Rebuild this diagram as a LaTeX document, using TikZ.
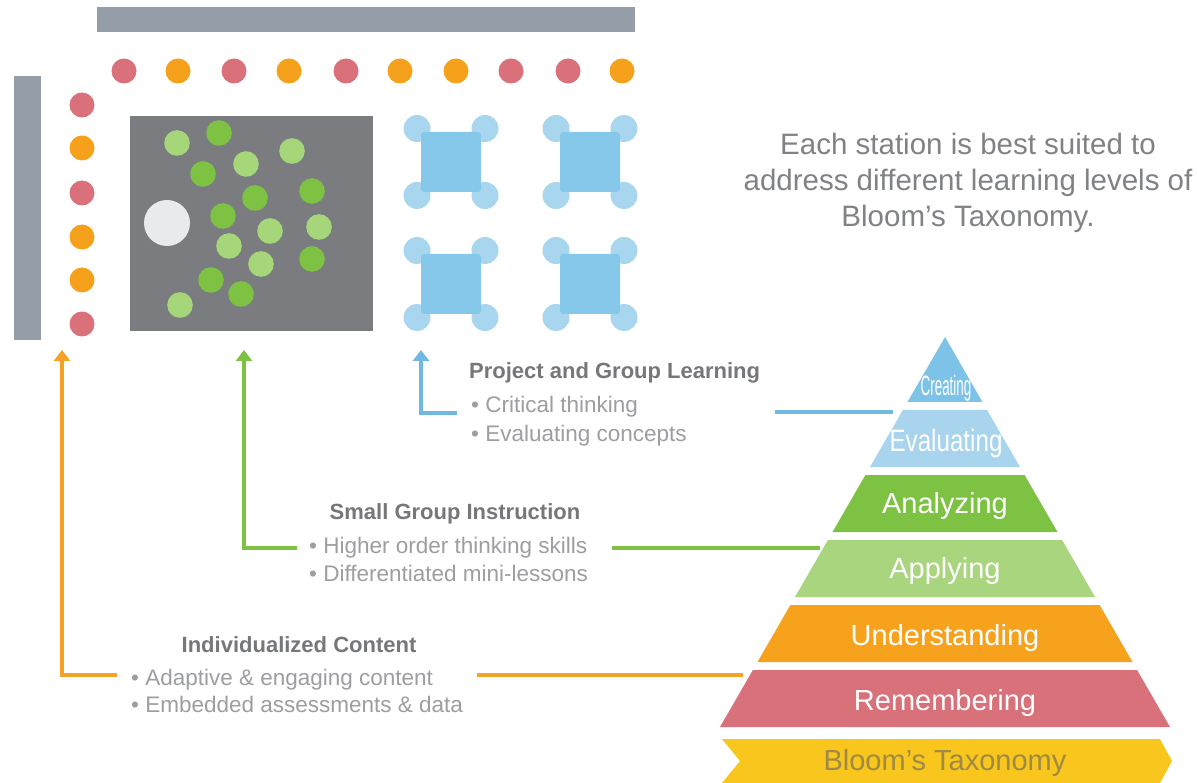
\documentclass[tikz,border=0pt]{standalone}
\usepackage{fontspec}
\setmainfont{Liberation Sans}
\usepackage{graphicx}
\usetikzlibrary{arrows.meta}
\definecolor{barG}{HTML}{959EA8}
\definecolor{dRed}{HTML}{D9707A}
\definecolor{dOrg}{HTML}{F5A11C}
\definecolor{sqG}{HTML}{7B7C80}
\definecolor{gLt}{HTML}{A6D67A}
\definecolor{gDk}{HTML}{7DC243}
\definecolor{wC}{HTML}{E8EAED}
\definecolor{bSq}{HTML}{86C8EA}
\definecolor{bCi}{HTML}{A9D6EF}
\definecolor{lnO}{HTML}{F6A325}
\definecolor{lnG}{HTML}{7DC243}
\definecolor{lnB}{HTML}{6FB8E2}
\definecolor{pCre}{HTML}{7DC3E8}
\definecolor{pEva}{HTML}{A8D4EE}
\definecolor{pAna}{HTML}{7DC243}
\definecolor{pApp}{HTML}{A8D57D}
\definecolor{pUnd}{HTML}{F7A21C}
\definecolor{pRem}{HTML}{D8717A}
\definecolor{pBlm}{HTML}{F8C61C}
\definecolor{tBlm}{HTML}{9E8A45}
\definecolor{txH}{HTML}{76777A}
\definecolor{txB}{HTML}{9D9EA1}
\definecolor{txT}{HTML}{808285}
\begin{document}
\begin{tikzpicture}[x=1pt,y=-1pt,
  headtxt/.style={inner sep=0pt,text=txH,font=\fontsize{22}{26}\selectfont\bfseries},
  bultxt/.style={inner sep=0pt,text=txB,font=\fontsize{22.5}{27}\selectfont},
  toptxt/.style={inner sep=0pt,text=txT,font=\fontsize{29.5}{35}\selectfont,anchor=base},
  bandlbl/.style={inner sep=0pt,text=white,font=\fontsize{29}{34}\selectfont,anchor=base},
  conn/.style={line width=3.5pt},
  tipped/.style={-{Triangle[width=16pt,length=11pt]}}
]
\useasboundingbox (0,0) rectangle (1197,783);
\fill[white] (0,0) rectangle (1197,783);

% walls
\fill[barG] (97,7) rectangle (635,32);
\fill[barG] (14,76) rectangle (41,340);

% top dots
\foreach \x/\c in {124/dRed,178/dOrg,234/dRed,289/dOrg,346/dRed,400/dOrg,456/dOrg,511/dRed,568/dRed,622/dOrg}
  \fill[\c] (\x,71) circle (12.5);
% left dots
\foreach \y/\c in {105/dRed,148/dOrg,193/dRed,237/dOrg,280/dOrg,324/dRed}
  \fill[\c] (82,\y) circle (12.5);

% small group area
\fill[sqG] (130,116) rectangle (373,331);
\fill[wC] (167,223) circle (23);
\foreach \x/\y/\c in {177/143/gLt,219/133/gDk,292/151/gLt,246/164/gLt,203/174/gDk,312/191/gDk,255/198/gDk,223/216/gDk,319/227/gLt,270/231/gLt,229/246/gLt,312/259/gDk,261/264/gLt,211/280/gDk,241/294/gDk,180/305/gLt}
  \fill[\c] (\x,\y) circle (12.8);

% project stations
\foreach \cx/\cy in {451/162,590/162,451/284,590/284}{
  \foreach \dx/\dy in {-34/-33.5,34/-33.5,-34/33.5,34/33.5}
    \fill[bCi] (\cx+\dx,\cy+\dy) circle (13.5);
  \fill[bSq,rounded corners=3pt] (\cx-30,\cy-30) rectangle (\cx+30,\cy+30);
}

% top right text
\node[toptxt] (tr1) at (968,155) {Each station is best suited to};
\node[toptxt] (tr2) at (968,191) {address different learning levels of};
\node[toptxt] (tr3) at (968,227) {Bloom's Taxonomy.};

% pyramid
\fill[pCre] (945,337) -- (982.5,402) -- (907.5,402) -- cycle;
\fill[pEva] (902.9,410) -- (987.1,410) -- (1020,467) -- (870,467) -- cycle;
\fill[pAna] (865.4,475) -- (1024.6,475) -- (1057.5,532) -- (832.5,532) -- cycle;
\fill[pApp] (827.9,540) -- (1062.1,540) -- (1095,597) -- (795,597) -- cycle;
\fill[pUnd] (790.4,605) -- (1099.6,605) -- (1132.5,662) -- (757.5,662) -- cycle;
\fill[pRem] (752.9,670) -- (1137.1,670) -- (1170,727) -- (720,727) -- cycle;
\fill[pBlm] (722,739) -- (1160,739) -- (1172,761) -- (1160,783) -- (722,783) -- (740,761) -- cycle;

\node[bandlbl,font=\fontsize{28}{32}\selectfont] (lCre) at (946,396) {\scalebox{0.48}[1]{Creating}};
\node[bandlbl,font=\fontsize{31}{36}\selectfont] (lEva) at (946,452) {\scalebox{0.78}[1]{Evaluating}};
\node[bandlbl] (lAna) at (945,513) {Analyzing};
\node[bandlbl] (lApp) at (945,578) {Applying};
\node[bandlbl] (lUnd) at (945,645) {Understanding};
\node[bandlbl] (lRem) at (945,710) {Remembering};
\node[bandlbl,text=tBlm] (lBlm) at (945,770) {Bloom's Taxonomy};

% text blocks
\node[headtxt,anchor=base west] (ph) at (469,379) {Project and Group Learning};
\node[bultxt,anchor=base west] (pb1) at (471,413) {• Critical thinking};
\node[bultxt,anchor=base west] (pb2) at (471,442) {• Evaluating concepts};

\node[headtxt,anchor=base] (sh) at (455,519) {Small Group Instruction};
\node[bultxt,anchor=base west] (sb1) at (309,553) {• Higher order thinking skills};
\node[bultxt,anchor=base west] (sb2) at (309,581) {• Differentiated mini-lessons};

\node[headtxt,anchor=base] (ih) at (299,652) {Individualized Content};
\node[bultxt,anchor=base west] (ib1) at (131,685) {• Adaptive \& engaging content};
\node[bultxt,anchor=base west] (ib2) at (131,712) {• Embedded assessments \& data};

% connector coordinates
\coordinate (bTip) at (421,350);
\coordinate (bL) at (457,413);
\coordinate (bR) at (775,412);
\coordinate (bP) at (893,412);
\coordinate (gTip) at (244,350);
\coordinate (gL) at (297,548);
\coordinate (gR) at (612,548);
\coordinate (gP) at (820,548);
\coordinate (oTip) at (62,350);
\coordinate (oL) at (117,675);
\coordinate (oR) at (477,675);
\coordinate (oP) at (743,675);

% connectors
\draw[conn,lnB,tipped] (bL) -| (bTip);
\draw[conn,lnB] (bP) -- (bR);
\draw[conn,lnG,tipped] (gL) -| (gTip);
\draw[conn,lnG] (gP) -- (gR);
\draw[conn,lnO,tipped] (oL) -| (oTip);
\draw[conn,lnO] (oP) -- (oR);
\end{tikzpicture}
\end{document}
